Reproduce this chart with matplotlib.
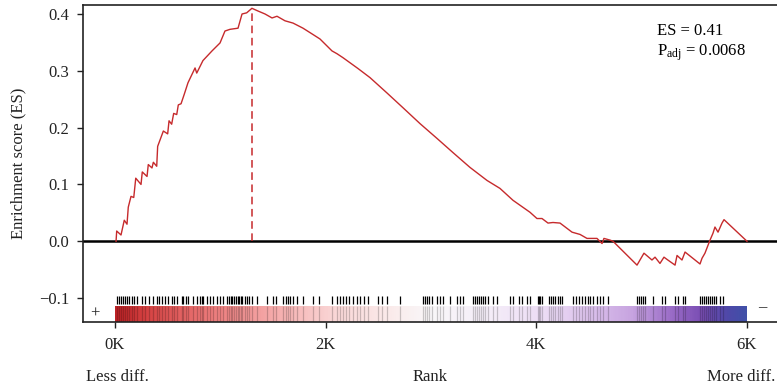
import numpy as np
import matplotlib
matplotlib.use('Agg')
import matplotlib.pyplot as plt
from matplotlib.colors import LinearSegmentedColormap

plt.rcParams['font.family'] = ['Liberation Serif', 'DejaVu Serif']
plt.rcParams['font.size'] = 12
plt.rcParams['mathtext.fontset'] = 'custom'
plt.rcParams['mathtext.rm'] = 'Liberation Serif'
plt.rcParams['mathtext.it'] = 'Liberation Serif:italic'

# running enrichment score (rank, ES)
es_rank = [10, 16, 57, 88, 114, 126, 152, 178, 197, 247, 259, 304, 316, 351, 364, 396,
           405, 459, 500, 513, 538, 557, 586, 601, 627, 658, 693, 760, 776, 835, 921,
           997, 1044, 1092, 1168, 1206, 1250, 1300, 1348, 1424, 1491, 1538, 1614, 1690,
           1785, 1870, 1946, 2060, 2108, 2165, 2307, 2421, 2582, 2734, 2896, 3057, 3209,
           3370, 3532, 3655, 3779, 3940, 4006, 4054, 4111, 4158, 4225, 4339, 4415, 4481,
           4576, 4624, 4642, 4700, 4728, 4956, 5022, 5098, 5127, 5174, 5212, 5241, 5317,
           5336, 5383, 5412, 5554, 5573, 5601, 5649, 5677, 5696, 5725, 5763, 5782, 6000]
es_value = [0.0, 0.018, 0.011, 0.037, 0.030, 0.060, 0.079, 0.077, 0.111, 0.100, 0.122,
            0.114, 0.135, 0.129, 0.139, 0.132, 0.167, 0.194, 0.189, 0.212, 0.206, 0.225,
            0.223, 0.240, 0.242, 0.259, 0.279, 0.305, 0.296, 0.318, 0.335, 0.349, 0.370,
            0.373, 0.375, 0.400, 0.402, 0.410, 0.406, 0.400, 0.393, 0.396, 0.388, 0.384,
            0.375, 0.365, 0.356, 0.335, 0.330, 0.323, 0.304, 0.288, 0.261, 0.235, 0.207,
            0.181, 0.156, 0.130, 0.107, 0.093, 0.072, 0.051, 0.040, 0.040, 0.032, 0.033,
            0.032, 0.016, 0.012, 0.005, 0.005, -0.004, 0.005, 0.002, 0.0, -0.042, -0.021,
            -0.033, -0.028, -0.039, -0.028, -0.032, -0.042, -0.025, -0.033, -0.019, -0.040,
            -0.030, -0.021, 0.002, 0.014, 0.025, 0.016, 0.032, 0.038, 0.0]

# ranks of the gene set members
hits = [16, 38, 54, 79, 95, 111, 136, 158, 183, 206, 253, 285, 326, 364, 402, 421, 443,
        475, 506, 538, 560, 585, 633, 649, 674, 696, 744, 775, 807, 823, 838, 870, 902,
        933, 965, 997, 1028, 1060, 1080, 1100, 1115, 1130, 1150, 1165, 1180, 1195, 1210,
        1230, 1250, 1275, 1300, 1348, 1443, 1500, 1529, 1595, 1623, 1642, 1661, 1690,
        1728, 1785, 1880, 1937, 2060, 2108, 2136, 2165, 2193, 2222, 2260, 2298, 2326,
        2364, 2402, 2497, 2535, 2582, 2706, 2924, 2943, 2962, 2981, 3010, 3057, 3086,
        3114, 3181, 3247, 3275, 3304, 3399, 3418, 3437, 3456, 3475, 3494, 3513, 3541,
        3589, 3627, 3750, 3779, 3836, 3864, 3912, 3940, 4016, 4026, 4035, 4054, 4120,
        4139, 4158, 4177, 4206, 4225, 4244, 4348, 4377, 4405, 4434, 4462, 4491, 4510,
        4538, 4576, 4605, 4633, 4681, 4956, 4975, 4994, 5013, 5032, 5108, 5193, 5222,
        5317, 5345, 5393, 5412, 5554, 5573, 5592, 5611, 5630, 5649, 5668, 5687, 5706,
        5744, 5772]

n_genes = 6000
peak_rank = 1300
peak_es = 0.41
p_adj = '0.0068'
xticks = [0, 2000, 4000, 6000]
xtick_labels = ['0K', '2K', '4K', '6K']
yticks = [-0.1, 0.0, 0.1, 0.2, 0.3, 0.4]
ytick_labels = ['\u22120.1', '0.0', '0.1', '0.2', '0.3', '0.4']

red = '#c62a2c'
ink = '#222222'

rank_cmap = LinearSegmentedColormap.from_list('rank', [
    (0.0, '#bd2226'), (0.05, '#d64444'), (0.15, '#ec7a7a'), (0.25, '#f5abab'),
    (0.35, '#fad8d8'), (0.45, '#faeeee'), (0.5, '#f9f7f9'), (0.6, '#f4ecf8'),
    (0.68, '#ecdcf5'), (0.75, '#dcc2ec'), (0.82, '#c7a4e0'), (0.88, '#9c6ec8'),
    (0.93, '#7a4eb4'), (0.97, '#5048a8'), (1.0, '#4150a8')])

fig = plt.figure(figsize=(7.77, 3.91), dpi=100)
ax = fig.add_axes([0.1068, 0.1765, 0.8932, 0.8107])

ax.plot(es_rank, es_value, color=red, lw=1.0, zorder=3)
ax.axhline(0, color='black', lw=1.8, zorder=2)
ax.plot([peak_rank, peak_rank], [0, peak_es], color=red, lw=1.1,
        ls=(0, (5, 3)), zorder=3)

# ranked list colour bar with member lines
bar_lo, bar_hi = -0.142, -0.1145
ax.imshow(np.linspace(0, 1, 600)[None, :], cmap=rank_cmap, aspect='auto',
          extent=[0, n_genes, bar_lo, bar_hi], zorder=1, interpolation='bilinear')
ax.vlines(hits, bar_lo, bar_hi, color='black', alpha=0.2, lw=0.9, zorder=1.5)
ax.vlines(hits, -0.1105, -0.0965, color='black', lw=0.9, zorder=2)

ax.text(-190, -0.128, '+', ha='center', va='center', color=ink)
ax.text(6143, -0.116, '–', ha='center', va='center', color=ink)

ax.text(5145, 0.385, 'ES = %.2f\nP$_{\\mathrm{adj}}$ = %s' % (peak_es, p_adj),
        ha='left', va='top', color='black', linespacing=1.3)

ax.set_xlim(-304, 6285)
ax.set_ylim(-0.1421, 0.4158)
ax.set_xticks(xticks)
ax.set_xticklabels(xtick_labels)
ax.set_yticks(yticks)
ax.set_yticklabels(ytick_labels)
ax.tick_params(direction='out', length=4, width=1, color=ink, labelcolor=ink,
               labelsize=12)
ax.tick_params(axis='x', pad=7)
ax.tick_params(axis='y', pad=6)
ax.set_ylabel('Enrichment score (ES)', color=ink, labelpad=9)
for side in ['left', 'bottom', 'top']:
    ax.spines[side].set_color(ink)
    ax.spines[side].set_linewidth(1.2)
ax.spines['right'].set_visible(False)

fig.text(0.111, 0.036, 'Less diff.', ha='left', va='center', color=ink)
fig.text(0.553, 0.036, 'Rank', ha='center', va='center', color=ink)
fig.text(0.998, 0.036, 'More diff.', ha='right', va='center', color=ink)

fig.savefig('out.png', dpi=100)
